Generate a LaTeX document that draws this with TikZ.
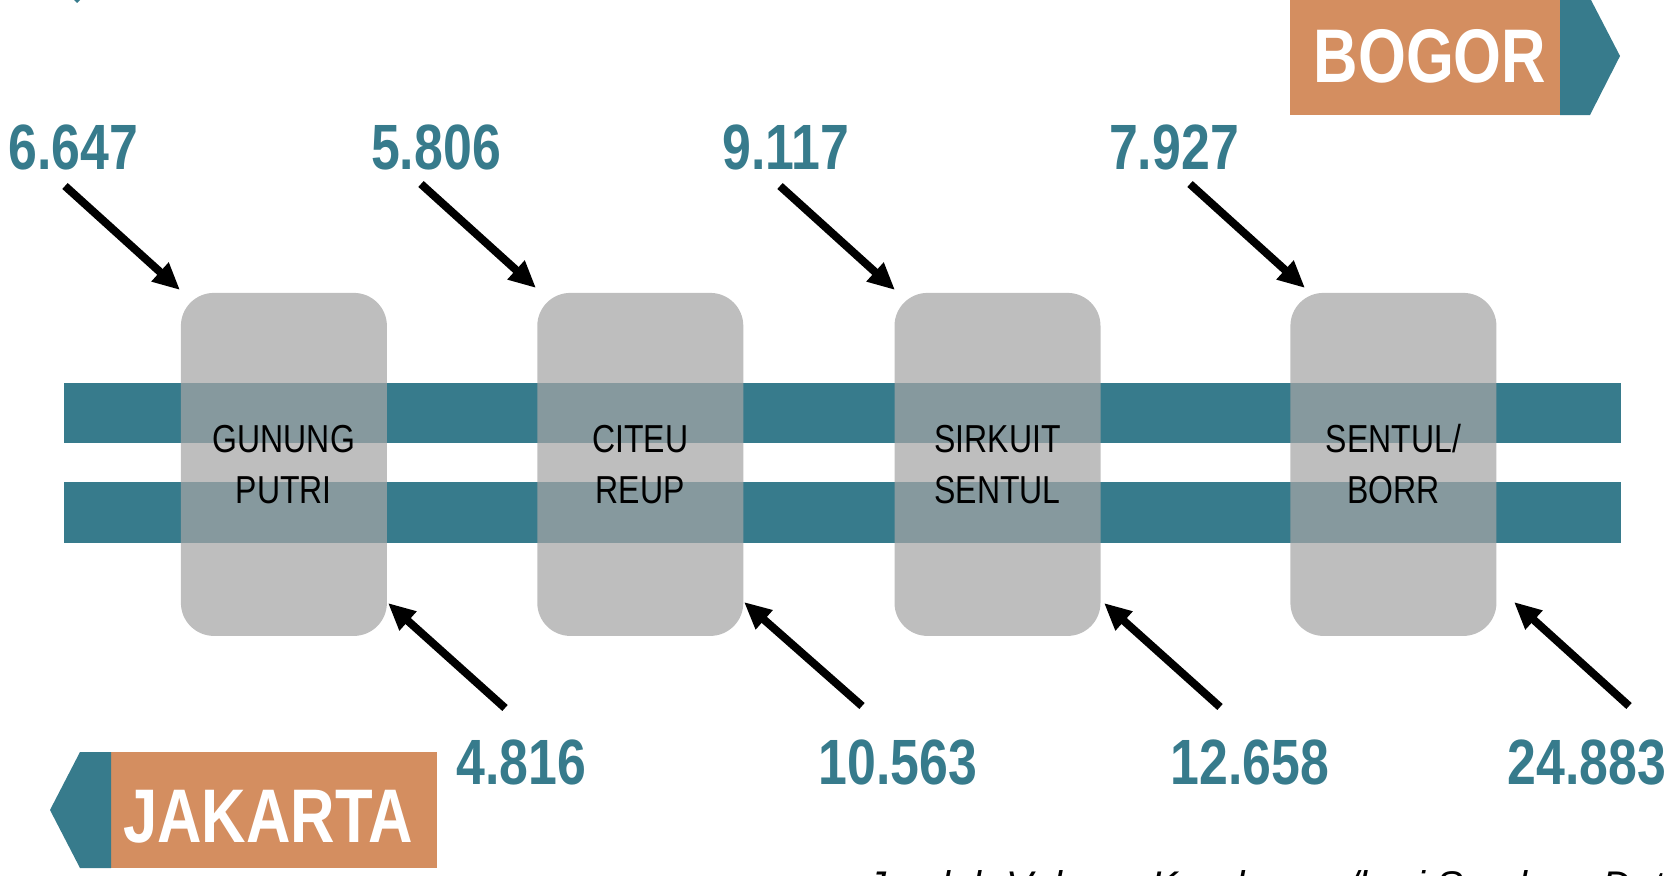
\documentclass[tikz,border=0pt]{standalone}
\usepackage{fontspec}
\setmainfont{Liberation Sans}
\newfontfamily\narrowfont[FakeStretch=0.81]{Liberation Sans}
\newfontfamily\boxfont[FakeStretch=0.82]{Liberation Sans}
\usetikzlibrary{arrows.meta}
\definecolor{teal}{RGB}{55,123,140}
\definecolor{orng}{RGB}{212,142,96}
\definecolor{boxgray}{RGB}{165,165,165}
\tikzset{
  band/.style={fill=teal, draw=none},
  station/.style={rectangle, rounded corners=33pt, minimum width=206pt, minimum height=343pt,
    fill=boxgray, fill opacity=0.72, text opacity=1, draw=none, align=center,
    font=\boxfont\fontsize{39}{51}\selectfont, text=black, inner sep=0pt},
  num/.style={anchor=base, text=teal, inner sep=0pt, font=\narrowfont\bfseries\fontsize{64}{64}\selectfont},
  city/.style={anchor=base, text=white, inner sep=0pt, font=\narrowfont\bfseries\fontsize{76}{76}\selectfont},
  flow/.style={line width=8pt, -{Triangle[length=27pt,width=24pt]}, black},
}
\begin{document}
\begin{tikzpicture}[x=1pt,y=-1pt]
\useasboundingbox (0,0) rectangle (1672,875);
% tiny cut-off mark top-left
\fill[teal] (74,0) -- (80,0) -- (77,3) -- cycle;
% bands
\fill[band] (64,383) rectangle (1621,443);
\fill[band] (64,482) rectangle (1621,543);
% stations
\node[station] (s1) at (283.9,464.4) {GUNUNG\\PUTRI};
\node[station] (s2) at (640.3,464.4) {CITEU\\REUP};
\node[station] (s3) at (997.5,464.4) {SIRKUIT\\SENTUL};
\node[station] (s4) at (1393.4,464.4) {SENTUL/\\BORR};
% top numbers
\node[num] (n1) at (73.5,169) {6.647};
\node[num] (n2) at (436,169) {5.806};
\node[num] (n3) at (786,169) {9.117};
\node[num] (n4) at (1174,169) {7.927};
% bottom numbers
\node[num] (m1) at (521.5,784) {4.816};
\node[num] (m2) at (898,784) {10.563};
\node[num] (m3) at (1250,784) {12.658};
\node[num] (m4) at (1587,784) {24.883};
% arrow coordinates
\coordinate (t1a) at (65,186);   \coordinate (t1b) at (180,290);
\coordinate (t2a) at (421,184);  \coordinate (t2b) at (536,288);
\coordinate (t3a) at (780,186);  \coordinate (t3b) at (895,290);
\coordinate (t4a) at (1190,184); \coordinate (t4b) at (1305,288);
\coordinate (b1a) at (505,708);  \coordinate (b1b) at (388,603);
\coordinate (b2a) at (862,706);  \coordinate (b2b) at (744,602);
\coordinate (b3a) at (1220,707); \coordinate (b3b) at (1104,603);
\coordinate (b4a) at (1629,706); \coordinate (b4b) at (1514,602);
\foreach \p in {t1,t2,t3,t4,b1,b2,b3,b4} \draw[flow] (\p a) -- (\p b);
% BOGOR tag
\fill[orng] (1290,0) rectangle (1560,115);
\fill[teal] (1560,0) -- (1591,0) -- (1620,56) -- (1590,115) -- (1560,115) -- cycle;
\node[city] (bogor) at (1430,82) {BOGOR};
% JAKARTA tag
\fill[orng] (111,752) rectangle (437,868);
\fill[teal] (111,752) -- (80,752) -- (50,810) -- (80,868) -- (111,868) -- cycle;
\node[city] (jkt) at (268,842) {JAKARTA};
% cut-off caption (only the tops of its letters are in the picture)
\node[anchor=base west, inner sep=0pt, font=\itshape\fontsize{40}{40}\selectfont] (cap) at (866,899) {Jumlah Volume Kendaraan/hari Sumber: Data};
\end{tikzpicture}
\end{document}
